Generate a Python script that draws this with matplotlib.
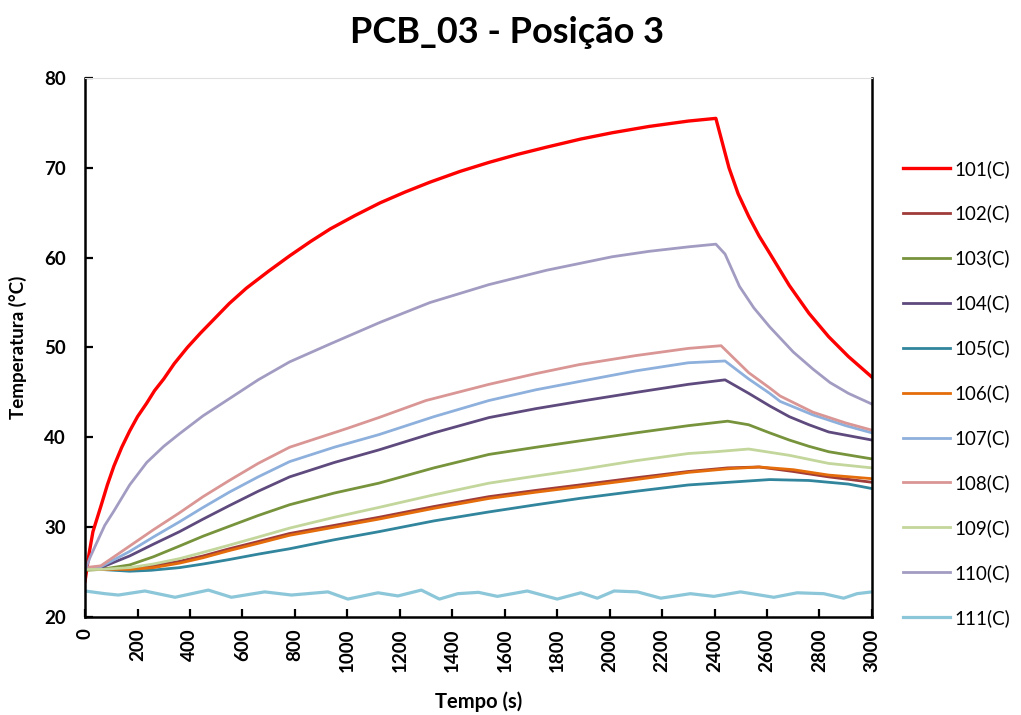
import matplotlib
matplotlib.use("Agg")
import matplotlib.pyplot as plt

plt.rcParams["font.family"] = ["Lato", "DejaVu Sans"]

# leituras dos termopares, tempo em segundos e temperatura em °C
t_101 = [0, 15, 30, 60, 85, 110, 140, 170, 200, 235, 265, 300, 340, 390, 440, 490, 550, 615, 700, 780, 860, 935,
         1030, 1125, 1220, 1315, 1430, 1540, 1650, 1760, 1890, 2010, 2150, 2300, 2405,
         2425, 2455, 2490, 2530, 2570, 2610, 2685, 2760, 2835, 2910, 3000]
v_101 = [24.0, 27.0, 29.5, 32.3, 34.7, 36.8, 38.9, 40.7, 42.3, 43.8, 45.2, 46.5, 48.2, 50.0, 51.6, 53.1, 54.9, 56.6,
         58.5, 60.2, 61.8, 63.2, 64.7, 66.1, 67.3, 68.4, 69.6, 70.6, 71.5, 72.3, 73.2, 73.9, 74.6, 75.2, 75.5,
         73.3, 70.0, 67.1, 64.6, 62.4, 60.5, 56.9, 53.8, 51.2, 49.0, 46.7]

t_102 = [0, 60, 170, 260, 360, 450, 550, 660, 780, 950, 1120, 1330, 1540, 1720, 1885, 2100, 2300, 2450, 2570, 2700,
         2835, 3000]
v_102 = [25.5, 25.4, 25.4, 25.7, 26.2, 26.8, 27.6, 28.4, 29.3, 30.2, 31.1, 32.3, 33.4, 34.1, 34.7, 35.5, 36.2, 36.6,
         36.7, 36.2, 35.6, 35.0]

t_103 = [0, 60, 170, 260, 360, 450, 550, 660, 780, 950, 1120, 1330, 1540, 1720, 1885, 2100, 2300, 2450, 2530, 2610,
         2685, 2760, 2835, 3000]
v_103 = [25.2, 25.3, 25.8, 26.7, 27.9, 29.0, 30.1, 31.3, 32.5, 33.8, 34.9, 36.6, 38.1, 38.9, 39.6, 40.5, 41.3, 41.8,
         41.4, 40.5, 39.7, 39.0, 38.4, 37.6]

t_104 = [0, 60, 170, 260, 360, 450, 550, 660, 780, 950, 1120, 1330, 1540, 1720, 1885, 2100, 2300, 2440, 2530, 2610,
         2685, 2760, 2835, 3000]
v_104 = [25.3, 25.5, 26.8, 28.1, 29.5, 30.9, 32.4, 34.0, 35.6, 37.2, 38.6, 40.5, 42.2, 43.2, 44.0, 45.0, 45.9, 46.4,
         44.9, 43.5, 42.3, 41.4, 40.6, 39.7]

t_105 = [0, 60, 170, 250, 360, 450, 550, 660, 780, 950, 1120, 1330, 1540, 1720, 1885, 2100, 2300, 2455, 2610, 2760,
         2910, 3000]
v_105 = [25.6, 25.3, 25.1, 25.2, 25.5, 25.9, 26.4, 27.0, 27.6, 28.6, 29.5, 30.7, 31.7, 32.5, 33.2, 34.0, 34.7, 35.0,
         35.3, 35.2, 34.8, 34.3]

t_106 = [0, 60, 170, 260, 360, 450, 550, 660, 780, 950, 1120, 1330, 1540, 1720, 1885, 2100, 2300, 2450, 2570, 2700,
         2835, 3000]
v_106 = [25.4, 25.3, 25.3, 25.5, 26.0, 26.6, 27.4, 28.2, 29.1, 30.0, 30.9, 32.1, 33.2, 33.9, 34.5, 35.3, 36.1, 36.5,
         36.7, 36.4, 35.8, 35.4]

t_107 = [0, 60, 170, 260, 360, 450, 550, 660, 780, 950, 1120, 1330, 1540, 1720, 1900, 2100, 2300, 2440, 2530, 2610,
         2650, 2775, 2900, 3000]
v_107 = [25.4, 25.6, 27.3, 28.9, 30.6, 32.2, 33.9, 35.6, 37.3, 38.9, 40.3, 42.3, 44.1, 45.3, 46.3, 47.4, 48.3, 48.5,
         46.5, 44.9, 44.0, 42.5, 41.3, 40.5]

t_108 = [0, 60, 170, 260, 360, 450, 550, 660, 780, 1000, 1120, 1300, 1540, 1720, 1885, 2100, 2300, 2425, 2530, 2610,
         2650, 2775, 2900, 3000]
v_108 = [25.5, 25.7, 27.9, 29.7, 31.6, 33.4, 35.2, 37.1, 38.9, 41.0, 42.2, 44.1, 45.9, 47.1, 48.1, 49.1, 49.9, 50.2,
         47.2, 45.5, 44.6, 42.8, 41.6, 40.8]

t_109 = [0, 60, 170, 260, 360, 450, 550, 660, 780, 950, 1120, 1330, 1540, 1720, 1885, 2100, 2300, 2405, 2530, 2685,
         2835, 3000]
v_109 = [25.3, 25.3, 25.5, 25.9, 26.5, 27.2, 28.0, 28.9, 29.9, 31.1, 32.2, 33.6, 34.9, 35.7, 36.4, 37.4, 38.2, 38.4,
         38.7, 38.0, 37.1, 36.6]

t_110 = [0, 20, 45, 75, 110, 170, 235, 300, 360, 450, 550, 660, 780, 935, 1125, 1315, 1540, 1760, 2010, 2150, 2300,
         2405, 2440, 2495, 2550, 2610, 2700, 2775, 2840, 2910, 3000]
v_110 = [25.2, 26.7, 28.3, 30.2, 31.8, 34.7, 37.2, 39.0, 40.4, 42.4, 44.3, 46.4, 48.4, 50.4, 52.8, 55.0, 57.0, 58.6,
         60.1, 60.7, 61.2, 61.5, 60.4, 56.8, 54.4, 52.3, 49.5, 47.6, 46.1, 44.9, 43.7]

t_111 = [0, 76, 127, 228, 343, 470, 558, 685, 787, 926, 1002, 1117, 1193, 1282, 1351, 1421, 1500, 1572, 1686, 1800,
         1890, 1953, 2017, 2106, 2195, 2308, 2397, 2499, 2626, 2715, 2816, 2892, 2943, 3000]
v_111 = [22.9, 22.6, 22.45, 22.9, 22.2, 23.0, 22.2, 22.8, 22.45, 22.8, 22.0, 22.7, 22.35, 23.0, 22.0, 22.6, 22.75, 22.3,
         22.9, 22.0, 22.7, 22.1, 22.9, 22.8, 22.1, 22.6, 22.3, 22.8, 22.2, 22.7, 22.6, 22.1, 22.6, 22.8]

series = [
    ("101(C)", t_101, v_101, "#ff0000", 2.4),
    ("102(C)", t_102, v_102, "#a03c3a", 2.0),
    ("103(C)", t_103, v_103, "#77933c", 2.0),
    ("104(C)", t_104, v_104, "#5f4a7e", 2.0),
    ("105(C)", t_105, v_105, "#31859c", 2.0),
    ("106(C)", t_106, v_106, "#e46c0a", 2.0),
    ("107(C)", t_107, v_107, "#8eb0dc", 2.0),
    ("108(C)", t_108, v_108, "#d99694", 2.0),
    ("109(C)", t_109, v_109, "#c3d69b", 2.0),
    ("110(C)", t_110, v_110, "#a29cc2", 2.0),
    ("111(C)", t_111, v_111, "#8cc6d9", 2.3),
]

fig = plt.figure(figsize=(10.21, 7.15), dpi=100)
ax = fig.add_axes([0.0833, 0.137, 0.7707, 0.754])

for nome, t, v, cor, lw in series:
    ax.plot(t, v, color=cor, lw=lw, label=nome, solid_joinstyle="round")

ax.set_xlim(0, 3000)
ax.set_ylim(20, 80)
ax.set_xticks(range(0, 3001, 200))
ax.set_yticks(range(20, 81, 10))
ax.tick_params(direction="in", length=6, width=1.6, labelsize=13.5)
ax.tick_params(axis="x", rotation=90, pad=8)
ax.tick_params(axis="y", pad=14)
for lbl in ax.get_xticklabels() + ax.get_yticklabels():
    lbl.set_fontweight("bold")

for lado in ["left", "bottom", "right"]:
    ax.spines[lado].set_linewidth(1.8)
    ax.spines[lado].set_color("black")
ax.spines["top"].set_color("#e0e0e0")
ax.spines["top"].set_linewidth(0.8)

ax.set_xlabel("Tempo (s)", fontsize=14.5, fontweight="bold", labelpad=14)
ax.set_ylabel("Temperatura (°C)", fontsize=13.5, fontweight="bold", labelpad=12)
fig.suptitle("PCB_03 - Posição 3", fontsize=26, fontweight="bold", x=0.497, y=0.978)

ax.legend(loc="upper left", bbox_to_anchor=(0.877, 0.787), bbox_transform=fig.transFigure,
          frameon=False, fontsize=13.5, handlelength=2.5, handletextpad=0.25,
          labelspacing=1.44, borderaxespad=0)

plt.savefig("out.png", dpi=100)
